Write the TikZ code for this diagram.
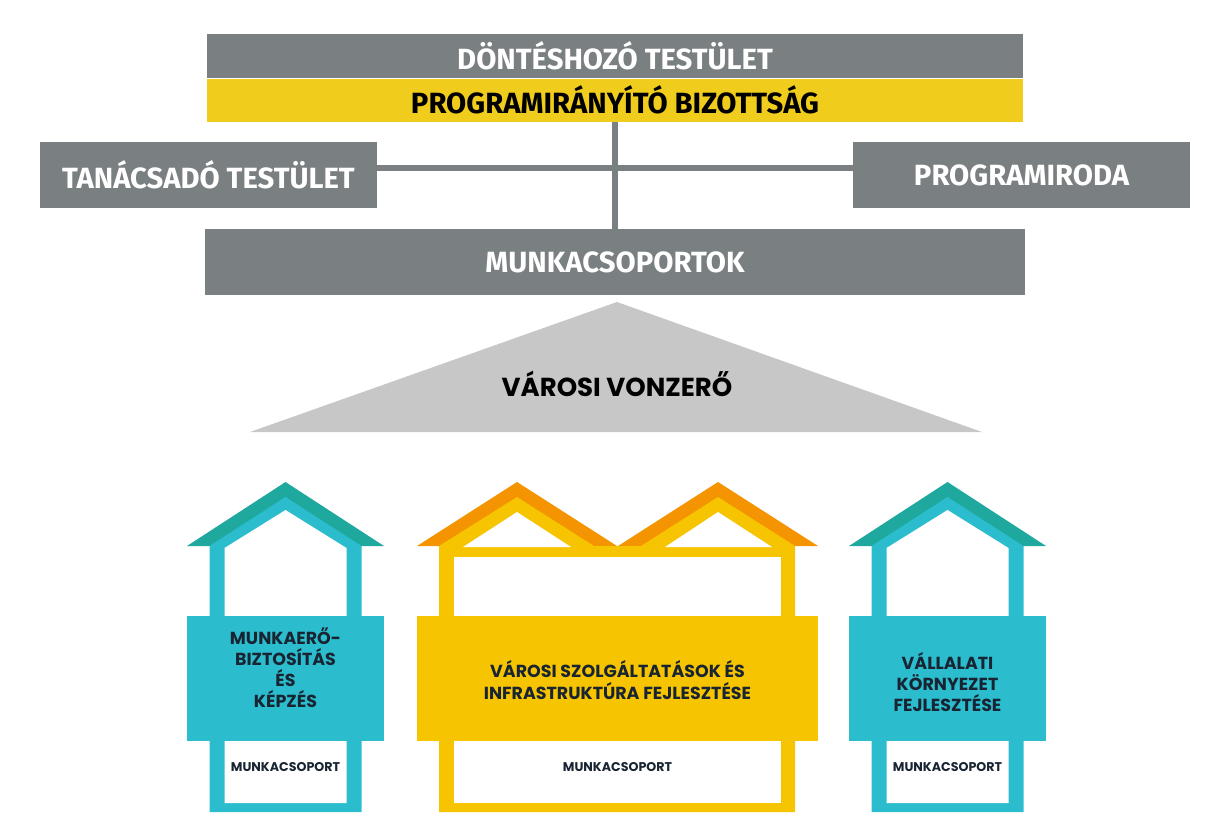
\documentclass[tikz,border=0pt]{standalone}
\usepackage{fontspec}
\usetikzlibrary{positioning}
\newfontfamily\headfont{Fira Sans}
\newfontfamily\housefont{Poppins}
\definecolor{boardgray}{RGB}{122,128,129}
\definecolor{boardyellow}{RGB}{240,204,28}
\definecolor{roofgray}{RGB}{199,199,199}
\definecolor{tealwall}{RGB}{43,189,206}
\definecolor{tealroof}{RGB}{30,168,158}
\definecolor{sunwall}{RGB}{246,196,0}
\definecolor{sunroof}{RGB}{244,148,0}
\definecolor{navytext}{RGB}{24,36,50}
\tikzset{
    board box/.style={
        fill=boardgray,text=white,inner sep=0pt,
        font=\headfont\bfseries\fontsize{20.8}{24}\selectfont
    },
    link/.style={draw=boardgray,line width=0.15cm},
    band text/.style={text=navytext,align=center,font=\housefont\bfseries\fontsize{12.4}{15}\selectfont},
    team text/.style={text=navytext,font=\housefont\bfseries\fontsize{9}{11}\selectfont}
}

\begin{document}
\begin{tikzpicture}[x=0.025cm,y=-0.025cm]
\useasboundingbox (0,0) rectangle (1208,812);
% governance boxes
\node[board box,minimum width=20.4cm,minimum height=1.1cm] (decision) at (615,56) {DÖNTÉSHOZÓ TESTÜLET};
\node[board box,fill=boardyellow,text=black,minimum width=20.4cm,minimum height=1.075cm,below=0pt of decision] (steering) {PROGRAMIRÁNYÍTÓ BIZOTTSÁG};
\node[board box,minimum width=8.425cm,minimum height=1.65cm] (advisory) at (208.5,175) {TANÁCSADÓ TESTÜLET};
\node[board box,minimum width=8.425cm,minimum height=1.65cm] (office) at (1021.5,175) {PROGRAMIRODA};
\node[board box,minimum width=20.5cm,minimum height=1.65cm] (groups) at (615,262) {MUNKACSOPORTOK};
\draw[link] (steering.south) -- (groups.north);
\draw[link] ([yshift=0.17cm]advisory.east) -- ([yshift=0.17cm]office.west);
% roof
\fill[roofgray] (617,302) -- (982,432) -- (250,432) -- cycle;
\node[font=\housefont\bfseries\fontsize{18.5}{22}\selectfont] (attraction) at (617,384) {VÁROSI VONZERŐ};
% teal houses
\foreach \cx in {285.5,947.5}{
    \fill[tealroof] (\cx-98.5,546) -- (\cx,482) -- (\cx+98.5,546) -- cycle;
    \fill[tealwall] (\cx-76,812) -- (\cx-76,546) -- (\cx,497) -- (\cx+76,546) -- (\cx+76,812) -- cycle;
    \fill[white] (\cx-61,803) -- (\cx-61,548) -- (\cx,510) -- (\cx+61,548) -- (\cx+61,803) -- cycle;
    \fill[tealwall] (\cx-98.5,616) rectangle (\cx+98.5,741);
}
% yellow house
\fill[sunroof] (417,546) -- (517,482) -- (617,546) -- cycle;
\fill[sunroof] (618,546) -- (718,482) -- (818,546) -- cycle;
\fill[sunwall] (439,812) -- (439,546) -- (517,497) -- (594,546) -- (641,546) -- (718,497) -- (795,546) -- (795,812) -- cycle;
\fill[white] (454,557) rectangle (781,803);
\fill[white] (463,547) -- (517,512) -- (571,547) -- cycle;
\fill[white] (665,547) -- (718,512) -- (772,547) -- cycle;
\fill[sunwall] (417,616) rectangle (818,741);
% labels
\node[band text] (labor) at (285.5,668) {MUNKAERŐ-\\BIZTOSÍTÁS\\ÉS\\KÉPZÉS};
\node[band text] (services) at (617.5,680) {VÁROSI SZOLGÁLTATÁSOK ÉS\\INFRASTRUKTÚRA FEJLESZTÉSE};
\node[band text] (business) at (947.5,682) {VÁLLALATI\\KÖRNYEZET\\FEJLESZTÉSE};
\foreach \cx/\name in {285.5/labor,617.5/services,947.5/business}
    \node[team text] (\name-team) at (\cx,767) {MUNKACSOPORT};
\end{tikzpicture}
\end{document}
